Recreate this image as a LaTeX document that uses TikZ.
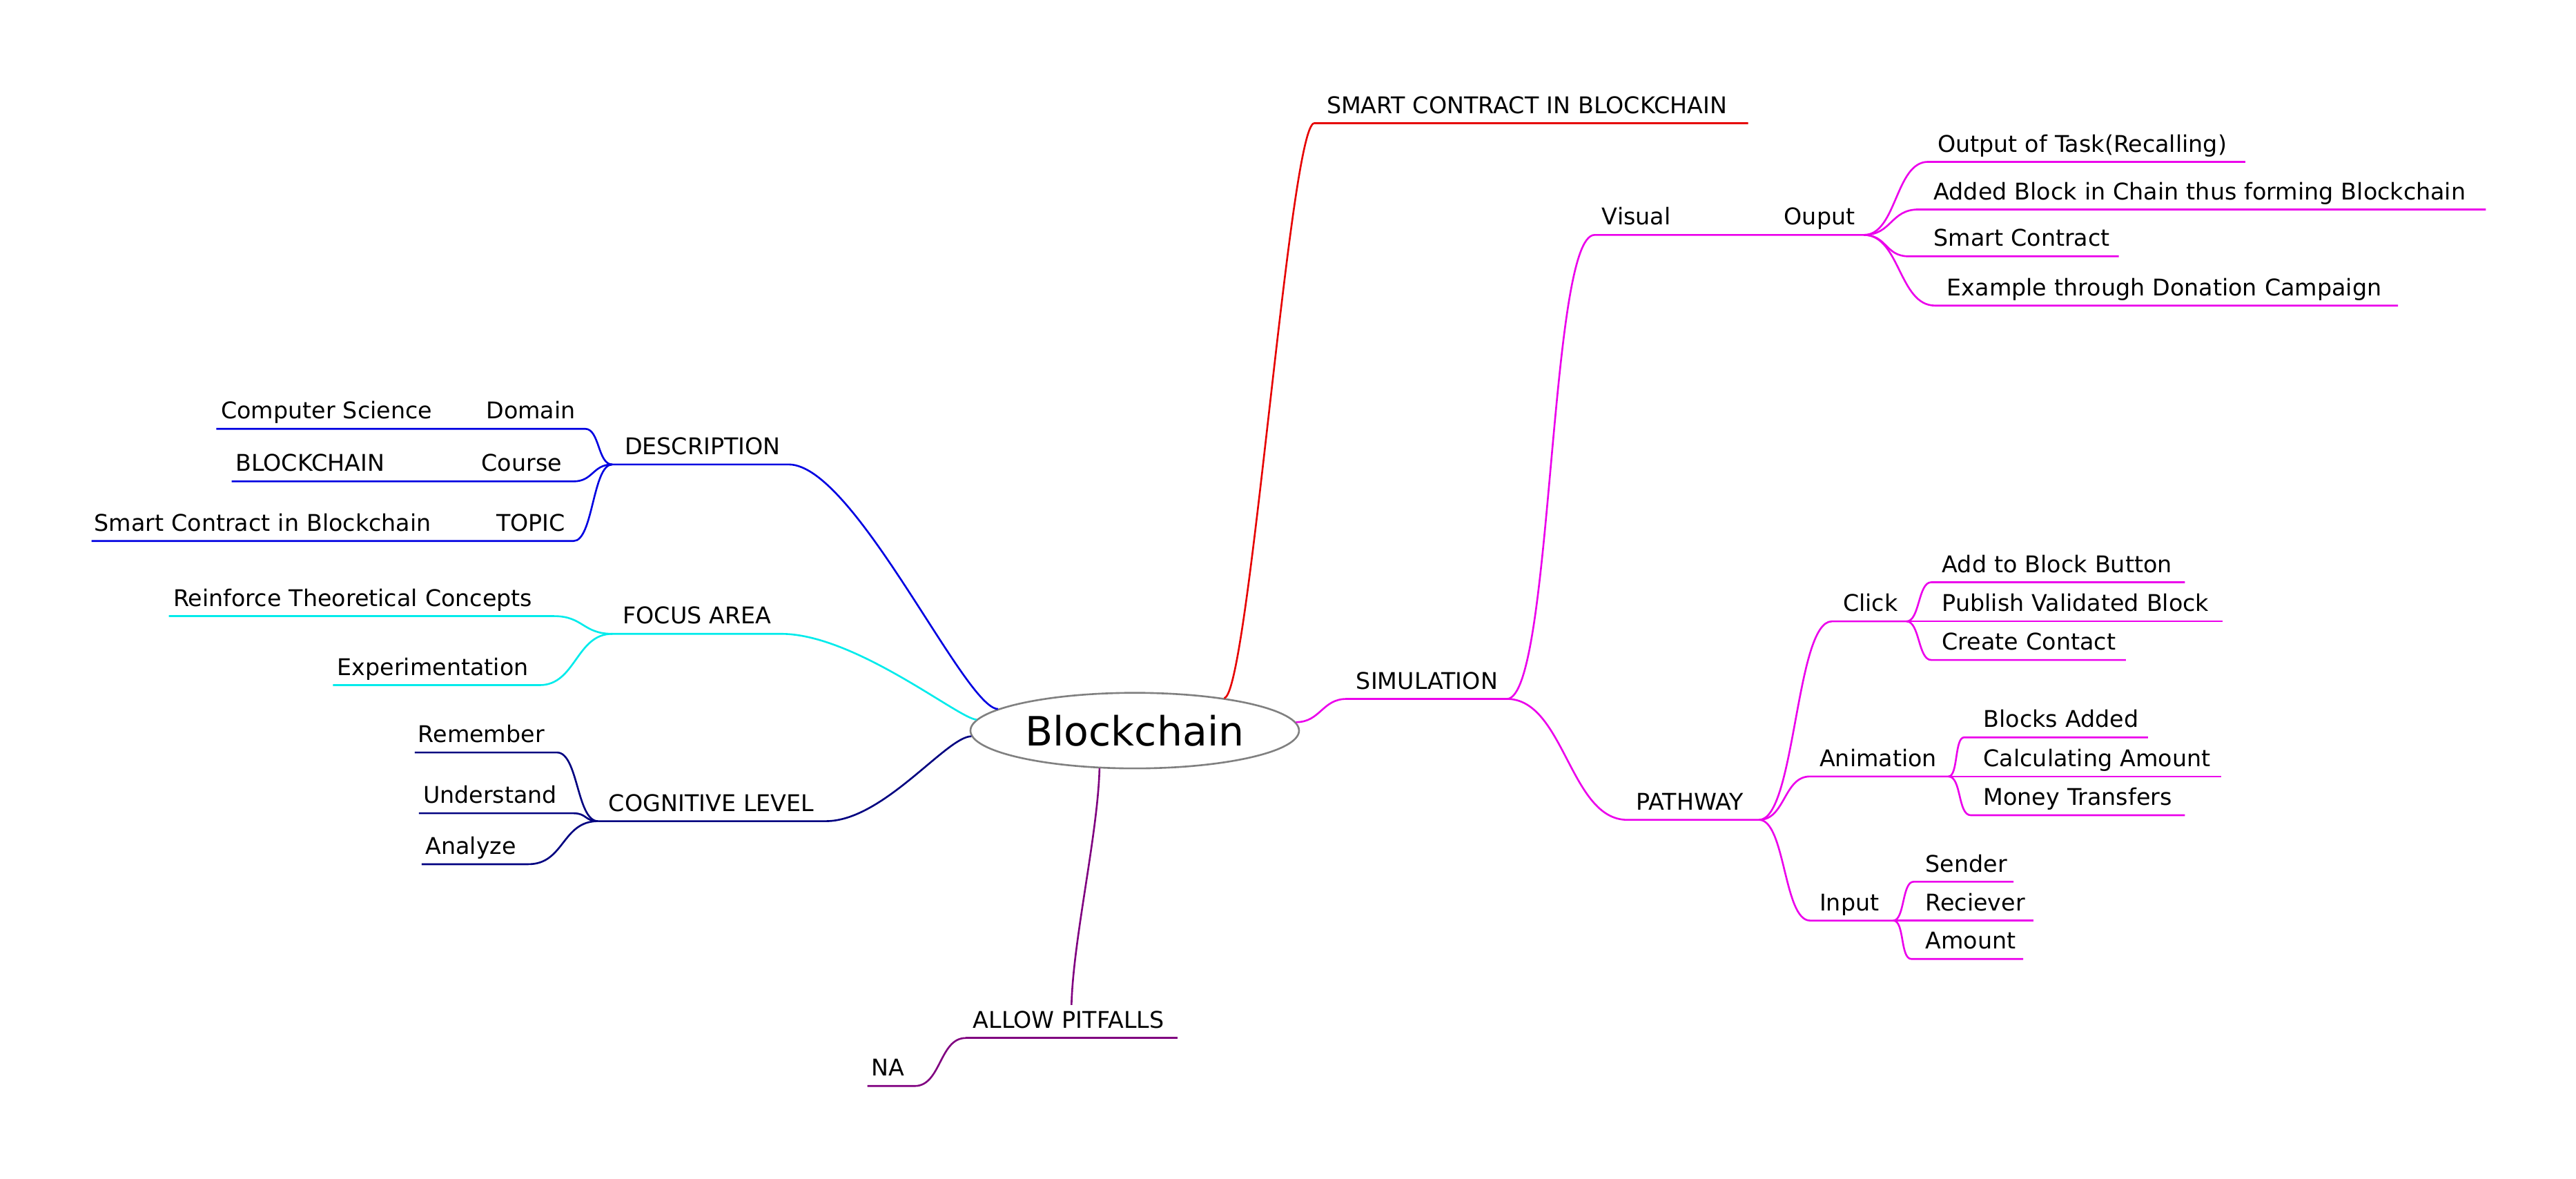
\documentclass[tikz,border=0pt]{standalone}
\usepackage{fontspec}
\setmainfont{DejaVu Sans}
\usetikzlibrary{shapes.geometric}
\definecolor{smartred}{RGB}{230,0,0}
\definecolor{simmag}{RGB}{235,0,235}
\definecolor{descblue}{RGB}{0,0,225}
\definecolor{focuscyan}{RGB}{0,235,235}
\definecolor{cognavy}{RGB}{0,0,128}
\definecolor{pitpurple}{RGB}{128,0,128}
\hyphenpenalty=10000
\exhyphenpenalty=10000

\begin{document}
\begin{tikzpicture}[x=1pt, y=-1pt, line width=1.1pt,
    root/.style = {draw=gray, ellipse, minimum width=200pt, minimum height=46pt, inner sep=0pt, font=\fontsize{24.6}{30}\selectfont},
    item/.style = {anchor=south west, inner sep=0pt, text depth=5.5pt, align=left, font=\fontsize{14}{17}\selectfont},
    smart/.style = {draw=smartred},
    sim/.style = {draw=simmag},
    desc/.style = {draw=descblue},
    focus/.style = {draw=focuscyan},
    cog/.style = {draw=cognavy},
    pitfall/.style = {draw=pitpurple}]
    \useasboundingbox (0,0) rectangle (1568,717.2);

    \node[root] (bc) at (690.7,444.7) {Blockchain};

    % right side
    \node[item, text width=263pt] (sc) at (800,75) {\hspace*{7pt}SMART CONTRACT IN BLOCKCHAIN};
    \node[item, text width=96.4pt] (simu) at (819.7,425.4) {\hspace*{5.3pt}SIMULATION};
    \node[item, text width=59.4pt] (vis) at (970.6,143) {\hspace*{4pt}Visual};
    \node[item, text width=58.4pt] (oup) at (1075,143) {\hspace*{10.4pt}Ouput};
    \node[item, text width=192pt] (out1) at (1173.6,98.5) {\hspace*{5.2pt}Output of Task(Recalling)};
    \node[item, text width=344.3pt] (out2) at (1167.7,127.5) {\hspace*{8.8pt}Added Block in Chain thus forming Blockchain};
    \node[item, text width=127pt] (out3) at (1161.6,156) {\hspace*{14.9pt}Smart Contract};
    \node[item, text width=280.7pt] (out4) at (1177.8,186) {\hspace*{6.8pt}Example through Donation Campaign};
    \node[item, text width=79.1pt] (path) at (990.5,499) {\hspace*{4.9pt}PATHWAY};
    \node[item, text width=44.4pt] (click) at (1115,378.2) {\hspace*{6.3pt}Click};
    \node[item, text width=153.3pt] (addb) at (1175.5,354.4) {\hspace*{6.1pt}Add to Block Button};
    \node[item, text width=192.5pt] (pubv) at (1159.4,378.2) {\hspace*{22.2pt}Publish Validated Block};
    \node[item, text width=117.4pt] (crec) at (1175.5,401.7) {\hspace*{6.1pt}Create Contact};
    \node[item, text width=83.2pt] (anim) at (1101.7,472.6) {\hspace*{5.3pt}Animation};
    \node[item, text width=110.7pt] (badd) at (1195.6,448.8) {\hspace*{11.2pt}Blocks Added};
    \node[item, text width=166.1pt] (calc) at (1184.9,472.6) {\hspace*{21.9pt}Calculating Amount};
    \node[item, text width=129.2pt] (mony) at (1199.6,496.2) {\hspace*{7.2pt}Money Transfers};
    \node[item, text width=49.6pt] (inpt) at (1101.7,560.3) {\hspace*{5.3pt}Input};
    \node[item, text width=59.8pt] (send) at (1164.7,536.7) {\hspace*{6.8pt}Sender};
    \node[item, text width=85.3pt] (recv) at (1151.3,560.3) {\hspace*{20.2pt}Reciever};
    \node[item, text width=66.9pt] (amnt) at (1163.5,583.7) {\hspace*{8pt}Amount};

    % left side
    \node[item, text width=106.3pt] (desc) at (372.7,282.7) {\hspace*{7pt}DESCRIPTION};
    \node[item, text width=67pt] (dom) at (288,261) {\hspace*{7.4pt}Domain};
    \node[item, text width=138.3pt] (cs) at (131.7,261) {\hspace*{2.3pt}Computer Science};
    \node[item, text width=64pt] (crs) at (284,293) {\hspace*{8.6pt}Course};
    \node[item, text width=104pt] (bcc) at (141,293) {\hspace*{1.9pt}BLOCKCHAIN};
    \node[item, text width=54pt] (topc) at (294,329.3) {\hspace*{7.6pt}TOPIC};
    \node[item, text width=219.3pt] (sct) at (55.7,329.3) {\hspace*{1.1pt}Smart Contract in Blockchain};
    \node[item, text width=101.7pt] (foc) at (372.7,385.8) {\hspace*{5.9pt}FOCUS AREA};
    \node[item, text width=233.2pt] (rein) at (102.8,375) {\hspace*{2.2pt}Reinforce Theoretical Concepts};
    \node[item, text width=124.7pt] (expm) at (202.7,417) {\hspace*{2.1pt}Experimentation};
    \node[item, text width=137.6pt] (cogl) at (364,499.8) {\hspace*{6pt}COGNITIVE LEVEL};
    \node[item, text width=85.4pt] (remb) at (252.5,458) {\hspace*{1.5pt}Remember};
    \node[item, text width=93pt] (undr) at (255,495) {\hspace*{2pt}Understand};
    \node[item, text width=63.8pt] (anlz) at (256.7,526) {\hspace*{1.8pt}Analyze};
    \node[item, text width=127.7pt] (pit) at (587.8,631.8) {\hspace*{4pt}ALLOW PITFALLS};
    \node[item, text width=27.7pt] (na) at (528,661) {\hspace*{2pt}NA};

    % branches from the root
    \draw[smart] (bc.20.6) .. controls +(15,0) and +(-15,0) .. (sc.south west) -- (sc.south east);
    \draw[sim] (bc.3) .. controls +(15,0) and +(-15,0) .. (simu.south west) -- (simu.south east);
    \draw[desc] (bc.171.2) .. controls +(-20,0) and +(40,0) .. (desc.south east) -- (desc.south west);
    \draw[focus] (bc.176.4) .. controls +(-10,0) and +(45,0) .. (foc.south east) -- (foc.south west);
    \draw[cog] (bc.182.5) .. controls +(-15,0) and +(35,0) .. (cogl.south east) -- (cogl.south west);
    \draw[pitfall] (bc.227.2) .. controls +(-1,40) and +(1,-40) .. ([yshift=20.1pt]pit.south);
    \draw[pitfall] (pit.south east) -- (pit.south west);

    % simulation
    \draw[sim] (simu.south east) .. controls +(28,0) and +(-28,0) .. (vis.south west) -- (vis.south east) -- (oup.south west) -- (oup.south east);
    \draw[sim] (oup.south east) .. controls +(20,0) and +(-20,0) .. (out1.south west) -- (out1.south east);
    \draw[sim] (oup.south east) .. controls +(17,0) and +(-17,0) .. (out2.south west) -- (out2.south east);
    \draw[sim] (oup.south east) .. controls +(14,0) and +(-14,0) .. (out3.south west) -- (out3.south east);
    \draw[sim] (oup.south east) .. controls +(22,0) and +(-22,0) .. (out4.south west) -- (out4.south east);
    \draw[sim] (simu.south east) .. controls +(35,0) and +(-35,0) .. (path.south west) -- (path.south east);
    \draw[sim] (path.south east) .. controls +(22,0) and +(-22,0) .. (click.south west) -- (click.south east);
    \draw[sim] (path.south east) .. controls +(16,0) and +(-16,0) .. (anim.south west) -- (anim.south east);
    \draw[sim] (path.south east) .. controls +(16,0) and +(-16,0) .. (inpt.south west) -- (inpt.south east);
    \draw[sim] (click.south east) .. controls +(8,0) and +(-8,0) .. (addb.south west) -- (addb.south east);
    \draw[sim] (click.south east) -- (pubv.south east);
    \draw[sim] (click.south east) .. controls +(8,0) and +(-8,0) .. (crec.south west) -- (crec.south east);
    \draw[sim] (anim.south east) .. controls +(6,0) and +(-6,0) .. (badd.south west) -- (badd.south east);
    \draw[sim] (anim.south east) -- (calc.south east);
    \draw[sim] (anim.south east) .. controls +(8,0) and +(-8,0) .. (mony.south west) -- (mony.south east);
    \draw[sim] (inpt.south east) .. controls +(7,0) and +(-7,0) .. (send.south west) -- (send.south east);
    \draw[sim] (inpt.south east) -- (recv.south east);
    \draw[sim] (inpt.south east) .. controls +(7,0) and +(-7,0) .. (amnt.south west) -- (amnt.south east);

    % description
    \draw[desc] (desc.south west) .. controls +(-9,0) and +(9,0) .. (dom.south east) -- (dom.south west) -- (cs.south east) -- (cs.south west);
    \draw[desc] (desc.south west) .. controls +(-12,0) and +(12,0) .. (crs.south east) -- (crs.south west) -- (bcc.south east) -- (bcc.south west);
    \draw[desc] (desc.south west) .. controls +(-12,0) and +(12,0) .. (topc.south east) -- (topc.south west) -- (sct.south east) -- (sct.south west);

    % focus area
    \draw[focus] (foc.south west) .. controls +(-18,0) and +(18,0) .. (rein.south east) -- (rein.south west);
    \draw[focus] (foc.south west) .. controls +(-22,0) and +(22,0) .. (expm.south east) -- (expm.south west);

    % cognitive level
    \draw[cog] (cogl.south west) .. controls +(-13,0) and +(13,0) .. (remb.south east) -- (remb.south west);
    \draw[cog] (cogl.south west) .. controls +(-8,0) and +(8,0) .. (undr.south east) -- (undr.south west);
    \draw[cog] (cogl.south west) .. controls +(-22,0) and +(22,0) .. (anlz.south east) -- (anlz.south west);

    % pitfalls
    \draw[pitfall] (pit.south west) .. controls +(-16,0) and +(16,0) .. (na.south east) -- (na.south west);
\end{tikzpicture}
\end{document}
